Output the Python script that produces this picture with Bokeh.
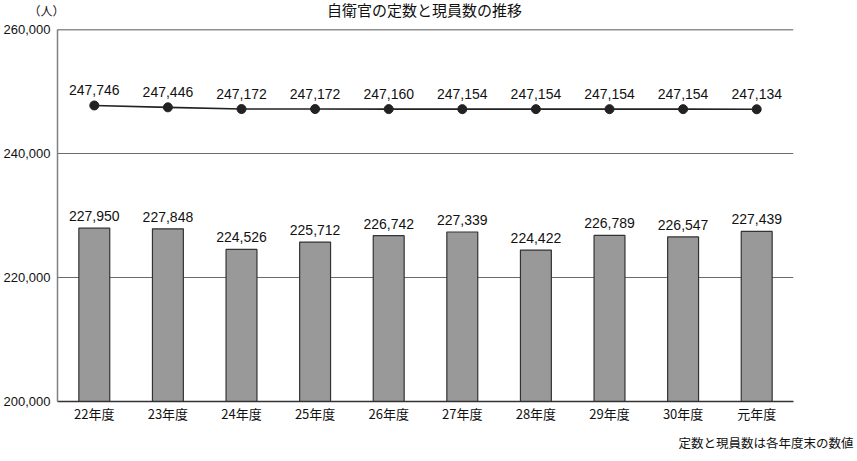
from bokeh.plotting import figure
from bokeh.models import (ColumnDataSource, Range1d, FactorRange, NumeralTickFormatter,
                          FixedTicker, Label, Legend, LegendItem, Span)
from bokeh.core.properties import value
from bokeh.embed import file_html
from bokeh.resources import INLINE

years = ["22年度", "23年度", "24年度", "25年度", "26年度", "27年度", "28年度", "29年度", "30年度", "元年度"]
genin = [227950, 227848, 224526, 225712, 226742, 227339, 224422, 226789, 226547, 227439]
teisu = [247746, 247446, 247172, 247172, 247160, 247154, 247154, 247154, 247154, 247134]
y_ticks = [200000, 220000, 240000, 260000]

JP = "Noto Sans CJK JP"
NUM = "Liberation Sans"
INK = "#111111"

src = ColumnDataSource(dict(
    x=years, genin=genin, teisu=teisu,
    genin_lbl=[f"{v:,}" for v in genin],
    teisu_lbl=[f"{v:,}" for v in teisu],
))

p = figure(frame_width=736, frame_height=372,
           x_range=FactorRange(*years), y_range=Range1d(200000, 260000),
           output_backend="svg", toolbar_location=None,
           min_border_left=56, min_border_top=29, min_border_right=56, min_border_bottom=60)
p.outline_line_color = None

p.xgrid.grid_line_color = None
p.ygrid.ticker = FixedTicker(ticks=y_ticks)
p.ygrid.grid_line_color = "#6a6a6a"
p.ygrid.grid_line_width = 1
p.add_layout(Span(location=y_ticks[-1], dimension="width", line_color="#222222", line_width=1.5))

bars = p.vbar(x="x", top="genin", bottom=y_ticks[0], width=0.42, source=src,
              fill_color="#999999", line_color="#333333", line_width=1.2)
ln = p.line(x="x", y="teisu", source=src, line_color="#222222", line_width=1.6)
mk = p.scatter(x="x", y="teisu", source=src, size=9, fill_color="#222222", line_color="#222222")

p.text(x="x", y="genin", text="genin_lbl", source=src, text_align="center", text_baseline="bottom",
       y_offset=-7, text_font=value(NUM), text_font_size="14px", text_color=INK)
p.text(x="x", y="teisu", text="teisu_lbl", source=src, text_align="center", text_baseline="bottom",
       y_offset=-10, text_font=value(NUM), text_font_size="14px", text_color=INK)

p.yaxis.ticker = FixedTicker(ticks=y_ticks)
p.yaxis.formatter = NumeralTickFormatter(format="0,0")
p.yaxis.axis_line_color = "#808080"
p.yaxis.axis_line_width = 1.5
p.yaxis.major_tick_line_color = None
p.yaxis.minor_tick_line_color = None
p.yaxis.major_tick_out = 0
p.yaxis.major_tick_in = 0
p.yaxis.major_label_text_font = NUM
p.yaxis.major_label_text_font_size = "13px"
p.yaxis.major_label_text_color = INK
p.yaxis.major_label_standoff = 7

p.xaxis.axis_line_color = "#333333"
p.xaxis.axis_line_width = 1.5
p.xaxis.major_tick_line_color = None
p.xaxis.minor_tick_line_color = None
p.xaxis.major_tick_out = 0
p.xaxis.major_tick_in = 0
p.xaxis.major_label_text_font = JP
p.xaxis.major_label_text_font_size = "13px"
p.xaxis.major_label_text_color = INK
p.xaxis.major_label_standoff = 2

# title (above panel)
p.add_layout(Label(x=367, y=20, x_units="screen", y_units="screen", text="自衛官の定数と現員数の推移",
                   text_font=JP, text_font_size="15px", text_align="center", text_baseline="middle",
                   text_color=INK), "above")
# unit (right panel)
p.add_layout(Label(x=-747, y=391, x_units="screen", y_units="screen", text="（人）",
                   text_font=JP, text_font_size="12px", text_align="center", text_baseline="middle",
                   text_color=INK), "right")
# note (right panel, drawn below the axis)
p.add_layout(Label(x=24, y=-41, x_units="screen", y_units="screen", text="定数と現員数は各年度末の数値",
                   text_font=JP, text_font_size="12.5px", text_align="right", text_baseline="middle",
                   text_color=INK), "right")

legend = Legend(items=[LegendItem(label="現員", renderers=[bars]),
                       LegendItem(label="定数", renderers=[ln, mk])],
                orientation="horizontal", location="top",
                label_text_font=JP, label_text_font_size="12px", label_text_color=INK,
                border_line_color="#333333", border_line_width=1, border_line_alpha=1,
                padding=10, spacing=18, glyph_width=23, glyph_height=8,
                label_standoff=4, label_height=14, margin=5)
p.add_layout(legend, "below")

open("out.html", "w").write(file_html(p, INLINE))
